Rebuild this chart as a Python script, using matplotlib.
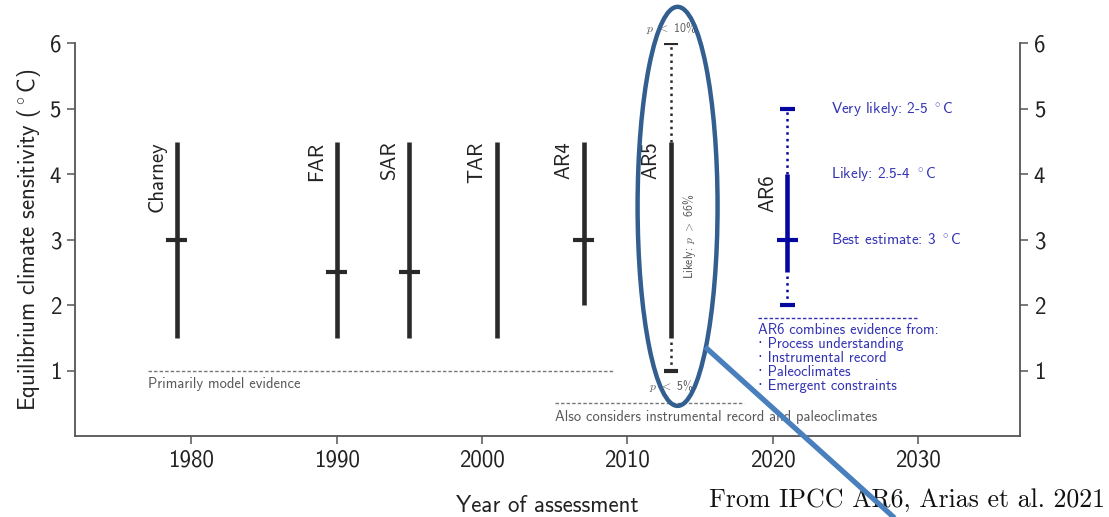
import numpy as np
import matplotlib.pyplot as plt
from matplotlib.patches import Ellipse

# Rapporti di valutazione e intervalli di sensibilita' climatica (°C)
reports = ["Charney", "FAR", "SAR", "TAR", "AR4", "AR5", "AR6"]
years = [1979, 1990, 1995, 2001, 2007, 2013, 2021]
likely_low = [1.5, 1.5, 1.5, 1.5, 2.0, 1.5, 2.5]
likely_high = [4.5, 4.5, 4.5, 4.5, 4.5, 4.5, 4.0]
best_est = [3.0, 2.5, 2.5, np.nan, 3.0, np.nan, 3.0]
tail_low = [np.nan, np.nan, np.nan, np.nan, np.nan, 1.0, 2.0]
tail_high = [np.nan, np.nan, np.nan, np.nan, np.nan, 6.0, 5.0]

year_ticks = [1980, 1990, 2000, 2010, 2020, 2030]
year_labels = ["1980", "1990", "2000", "2010", "2020", "2030"]
ecs_ticks = [1, 2, 3, 4, 5, 6]
ecs_labels = ["1", "2", "3", "4", "5", "6"]

ar6_notes = ["Very likely: 2-5 $^\\circ$C", "Likely: 2.5-4 $^\\circ$C", "Best estimate: 3 $^\\circ$C"]
ar6_note_y = [5, 4, 3]
ar6_evidence = ["AR6 combines evidence from:", "\u00b7 Process understanding",
                "\u00b7 Instrumental record", "\u00b7 Paleoclimates", "\u00b7 Emergent constraints"]

plt.rcParams['font.family'] = ['cmss10', 'DejaVu Sans']
plt.rcParams['mathtext.fontset'] = 'cm'

grigio = "#2a2a2a"
blu = "#0606a0"
blu_testo = "#3232b4"
grigio_testo = "#5a5a5a"

fig = plt.figure(figsize=(11.09, 5.17), dpi=100)
ax = fig.add_axes([0.0676, 0.1567, 0.8521, 0.7592])
ax.set_xlim(1972, 2037)
ax.set_ylim(0, 6)

ax.spines['top'].set_visible(False)
for s in ['left', 'right', 'bottom']:
    ax.spines[s].set_color("#555555")
    ax.spines[s].set_linewidth(1.3)

ax.set_xticks(year_ticks)
ax.set_xticklabels(year_labels)
ax.set_yticks(ecs_ticks)
ax.set_yticklabels(ecs_labels)
ax.tick_params(axis='both', labelsize=16.5, length=6, width=1.1, color="#555555",
               labelcolor="#222222", pad=4)
ax.tick_params(axis='y', right=True, labelright=True)

# Barre degli intervalli
for i, name in enumerate(reports):
    x = years[i]
    col = blu if name == "AR6" else grigio
    ax.plot([x, x], [likely_low[i], likely_high[i]], color=col, lw=3.3, solid_capstyle='butt')
    if not np.isnan(best_est[i]):
        ax.plot([x - 0.72, x + 0.72], [best_est[i], best_est[i]], color=col, lw=3,
                solid_capstyle='butt')
    if not np.isnan(tail_low[i]):
        ax.plot([x, x], [tail_low[i], likely_low[i]], color=col, lw=1.8, ls=':')
        ax.plot([x, x], [likely_high[i], tail_high[i]], color=col, lw=1.8, ls=':')
        for v in [tail_low[i], tail_high[i]]:
            ax.plot([x - 0.5, x + 0.5], [v, v], color=col, lw=3, solid_capstyle='butt')
    ax.text(x - 0.7, likely_high[i], name, rotation=90, ha='right', va='top',
            fontsize=15, color="#222222")

# Note per AR5
ax.text(2013, 6.12, "$p$ $<$ 10%", ha='center', va='bottom', fontsize=8.5, color=grigio_testo)
ax.text(2013, 0.88, "$p$ $<$ 5%", ha='center', va='top', fontsize=8.5, color=grigio_testo)
ax.text(2014.3, 3.05, "Likely: $p$ $>$ 66%", rotation=90, ha='center', va='center',
        fontsize=8.5, color=grigio_testo)

# Linee tratteggiate sul tipo di evidenza
ax.plot([1977, 2009], [1, 1], color="#777777", lw=1, ls=(0, (2.5, 1.5)))
ax.text(1977, 0.9, "Primarily model evidence", ha='left', va='top', fontsize=10.5,
        color=grigio_testo)
ax.plot([2005, 2018], [0.5, 0.5], color="#777777", lw=1, ls=(0, (2.5, 1.5)))
ax.text(2005, 0.4, "Also considers instrumental record and paleoclimates", ha='left',
        va='top', fontsize=10.5, color=grigio_testo)

# Testi AR6
for txt, yv in zip(ar6_notes, ar6_note_y):
    ax.text(2024, yv, txt, ha='left', va='center', fontsize=11, color=blu_testo)
ax.plot([2019, 2030], [1.8, 1.8], color=blu_testo, lw=1, ls=(0, (2.5, 1.5)))
for k, txt in enumerate(ar6_evidence):
    ax.text(2019, 1.62 - 0.215 * k, txt, ha='left', va='center', fontsize=10.5,
            color=blu_testo)

ax.set_xlabel("Year of assessment", fontsize=16.5, labelpad=17, color="#222222")
ax.set_ylabel("Equilibrium climate sensitivity ($^\\circ$C)", fontsize=16.5, labelpad=5,
              color="#222222")

# Evidenziazione di AR5
ell = Ellipse((2013.45, 3.51), 5.5, 6.1, fill=False, edgecolor="#335f90", lw=3.2,
              zorder=10, clip_on=False)
ax.add_patch(ell)
ax.plot([2015.35, 2030], [1.36, -1.58], color="#4a7fbe", lw=3.8, zorder=11, clip_on=False,
        solid_capstyle='butt')

ax.text(0.9965, 0.02, "From IPCC AR6, Arias et al. 2021", transform=fig.transFigure,
        ha='right', va='baseline', fontsize=18.6, family='cmr10', color="#111111", zorder=5)

plt.savefig("out.png", dpi=100)
